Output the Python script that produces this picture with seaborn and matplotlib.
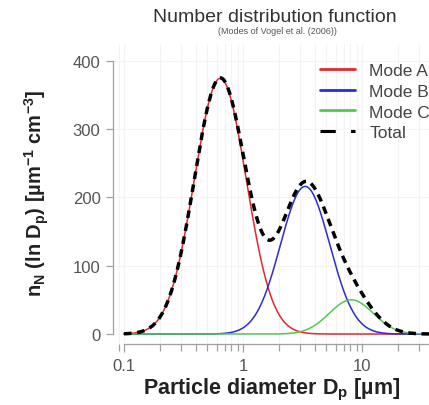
import numpy as np
import pandas as pd
import seaborn as sns
import matplotlib.pyplot as plt
from matplotlib.lines import Line2D
from matplotlib.ticker import LogLocator, NullFormatter, FixedFormatter, FixedLocator

# Lognormal modes: number, median diameter [um], geometric std
modes = ['Mode A', 'Mode B', 'Mode C']
mode_n = [470, 258, 53.4]
mode_dg = [0.645, 3.33, 8.13]
mode_sigma = [1.65, 1.61, 1.53]
mode_colors = ['#e8262b', '#2b2bd9', '#52c852']

x_ticks = [0.1, 1, 10]
x_ticklabels = ['0.1', '1', '10']
y_ticks = [0, 100, 200, 300, 400]

dp = np.logspace(-1, np.log10(50), 500)


def lognorm_mode(d, n, dg, sg):
    ls = np.log(sg)
    return n / (np.sqrt(2 * np.pi) * ls) * np.exp(-(np.log(d) - np.log(dg)) ** 2 / (2 * ls ** 2))


df = pd.DataFrame({'Dp': dp})
for m, n, dg, sg in zip(modes, mode_n, mode_dg, mode_sigma):
    df[m] = lognorm_mode(dp, n, dg, sg)
df['Total'] = df[modes].sum(axis=1)

sns.set_theme(style='white')
plt.rcParams['font.family'] = ['Liberation Sans', 'DejaVu Sans']

fig = plt.figure(figsize=(4.29, 4.06), dpi=100)
ax = fig.add_axes([113 / 429, 1 - 345 / 406, 316 / 429, 300 / 406])

for m, c in zip(modes, mode_colors):
    sns.lineplot(x='Dp', y=m, data=df, ax=ax, color=c, linewidth=1.1)
sns.lineplot(x='Dp', y='Total', data=df, ax=ax, color='black', linewidth=2.5,
             linestyle=(0, (2.2, 1.6)))

ax.set_xscale('log')
ax.set_xlim(0.0809, 36.6)
ax.set_ylim(-14.6, 424.6)
ax.set_xlabel('')
ax.set_ylabel('')

ax.xaxis.set_major_locator(FixedLocator(x_ticks))
ax.xaxis.set_major_formatter(FixedFormatter(x_ticklabels))
ax.xaxis.set_minor_locator(LogLocator(base=10, subs=np.arange(2, 10)))
ax.xaxis.set_minor_formatter(NullFormatter())
ax.set_yticks(y_ticks)

for s in ['top', 'right']:
    ax.spines[s].set_visible(False)
for s in ['left', 'bottom']:
    ax.spines[s].set_color('#a0a0a0')
    ax.spines[s].set_linewidth(0.9)
ax.spines['left'].set_bounds(0, 400)
ax.spines['bottom'].set_bounds(0.1, 50)

ax.tick_params(axis='both', which='both', direction='out', color='#a0a0a0',
               width=0.9, labelcolor='#555555', labelsize=12)
ax.tick_params(axis='y', length=5, pad=4, left=True)
ax.tick_params(axis='x', which='major', length=6, pad=4, bottom=True)
ax.tick_params(axis='x', which='minor', length=5, bottom=True)

ax.grid(True, which='both', axis='x', color='#f3f3f3', linewidth=0.8)
ax.grid(True, which='major', axis='y', color='#f3f3f3', linewidth=0.8)
ax.set_axisbelow(True)

handles = [Line2D([], [], color=c, linewidth=2.0) for c in mode_colors]
handles.append(Line2D([], [], color='black', linewidth=2.2, linestyle=(0, (5, 5))))
leg = fig.legend(handles, modes + ['Total'], loc='upper left',
                 bbox_to_anchor=(320 / 429, 1 - 64 / 406), frameon=False,
                 fontsize=12.5, handlelength=2.0, handletextpad=0.85,
                 labelspacing=0.32, borderpad=0, borderaxespad=0)
for t in leg.get_texts():
    t.set_color('#444444')

fig.text(275 / 429, 1 - 17 / 406, 'Number distribution function', ha='center', va='center',
         fontsize=14, color='#333333')
fig.text(277 / 429, 1 - 31 / 406, '(Modes of Vogel et al. (2006))', ha='center', va='center',
         fontsize=6.5, color='#555555')

fig.text(272 / 429, 1 - 390 / 406, r'Particle diameter D$_{\mathregular{p}}$ [µm]',
         ha='center', va='center', fontsize=15.5, fontweight='bold', color='#222222')
fig.text(37 / 429, 1 - 193 / 406,
         r'n$_{\mathregular{N}}$ (ln D$_{\mathregular{p}}$) [µm$^{\mathregular{-1}}$ cm$^{\mathregular{-3}}$]',
         ha='center', va='center', rotation=90, fontsize=14.5, fontweight='bold', color='#222222')

fig.savefig('out.png', dpi=100)
